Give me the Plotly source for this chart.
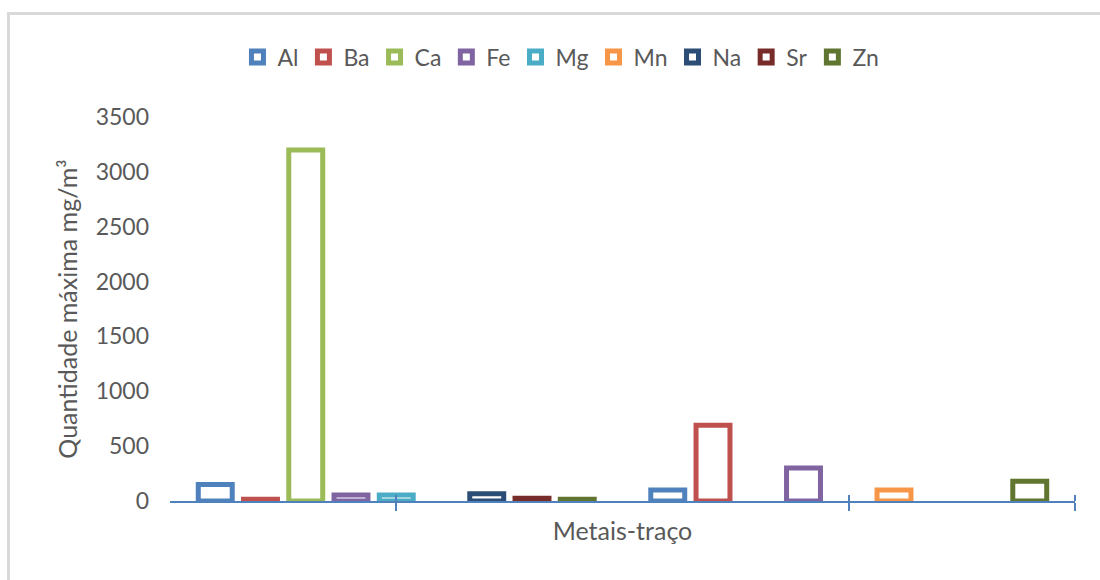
import plotly.graph_objects as go

# Data
series = ["Al", "Ba", "Ca", "Fe", "Mg", "Mn", "Na", "Sr", "Zn"]
groups = [0, 1]  # two sample groups along "Metais-traço"
al = [150, 100]
ba = [15, 690]
ca = [3200, None]
fe = [55, 300]
mg = [55, None]
mn = [None, 100]
na = [65, None]
sr = [25, None]
zn = [15, 180]
values = [al, ba, ca, fe, mg, mn, na, sr, zn]

y_ticks = [0, 500, 1000, 1500, 2000, 2500, 3000, 3500]
x_tick_positions = [0, 1, 1.5]

colors = ["#4F81BD", "#C0504D", "#9BBB59", "#8064A2", "#4BACC6",
          "#F79646", "#2C4D75", "#772C2A", "#5F7530"]

FONT = "Lato"
GRAY = "#595959"
AXIS = "#4F81BD"

fig = go.Figure()
for name, vals, col in zip(series, values, colors):
    fig.add_trace(go.Bar(
        x=groups, y=vals, name=name,
        marker=dict(color="white", line=dict(color=col, width=5)),
    ))

fig.update_layout(
    width=1100, height=580,
    margin=dict(l=170, r=25, t=117, b=79, autoexpand=False),
    paper_bgcolor="white", plot_bgcolor="white",
    barmode="group", bargap=0.1, bargroupgap=0.25,
    font=dict(family=FONT, color=GRAY, size=23),
    legend=dict(orientation="h", x=0.432, xanchor="center",
                y=1.156, yanchor="middle",
                font=dict(size=23, color=GRAY), itemwidth=30,
                bgcolor="rgba(0,0,0,0)"),
    showlegend=True,
)

fig.update_xaxes(
    type="linear", range=[-0.5, 1.5], showgrid=False, zeroline=False,
    showline=True, linecolor=AXIS, linewidth=1.5,
    tickmode="array", tickvals=x_tick_positions, ticks="outside",
    ticklen=8, tickcolor=AXIS, tickwidth=1.5, showticklabels=False,
    minor=dict(tickmode="array", tickvals=x_tick_positions, ticks="inside",
               ticklen=6, tickcolor=AXIS, tickwidth=1.5),
    title=dict(text="Metais-traço", standoff=13,
               font=dict(size=25, color=GRAY)),
    automargin=False,
)

fig.update_yaxes(
    range=[0, 3500], tickmode="array", tickvals=y_ticks,
    showgrid=False, zeroline=False, showline=False, ticks="",
    ticklabelstandoff=20,
    tickfont=dict(size=23, color=GRAY),
    title=dict(text="Quantidade máxima mg/m³", standoff=10,
               font=dict(size=25, color=GRAY)),
    automargin=False,
)

# Outer chart border (light gray frame, cropped on right/bottom)
fig.add_shape(type="rect", xref="paper", yref="paper",
              x0=-0.1785, x1=1.05, y0=-0.25, y1=1.2695,
              line=dict(color="#D9D9D9", width=3), fillcolor="rgba(0,0,0,0)",
              layer="below")

fig.write_html("out.html")
